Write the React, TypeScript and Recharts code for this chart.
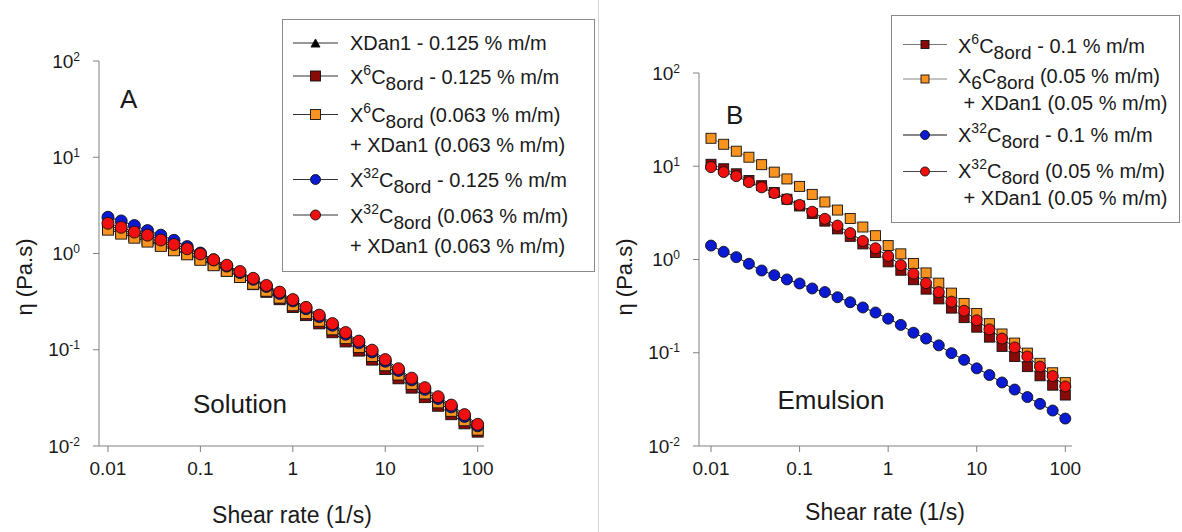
import { LineChart, Line, XAxis, YAxis } from "recharts";

const FONT = "'Liberation Sans', Arial, Helvetica, sans-serif";
const INK = "#1a1a1a";
const FRAME = "#808080";

// shear rate (1/s), 7 points per decade
const shearRate = [
  0.01, 0.0139, 0.0193, 0.0268, 0.0373, 0.0518, 0.072, 0.1, 0.139, 0.193, 0.268, 0.373, 0.518, 0.72,
  1, 1.39, 1.93, 2.68, 3.73, 5.18, 7.2, 10, 13.9, 19.3, 26.8, 37.3, 51.8, 72, 100,
];

// panel A - solution, viscosity (Pa.s)
const solXDan1 = [
  1.95, 1.77, 1.6, 1.46, 1.31, 1.18, 1.06, 0.94, 0.82, 0.715, 0.615, 0.525, 0.442, 0.375, 0.312,
  0.259, 0.214, 0.175, 0.141, 0.114, 0.092, 0.073, 0.0587, 0.0469, 0.0374, 0.0301, 0.0246, 0.0196, 0.0156,
];
const solX6 = [
  1.85, 1.68, 1.52, 1.38, 1.24, 1.11, 1.0, 0.88, 0.77, 0.665, 0.57, 0.48, 0.4, 0.335, 0.278,
  0.229, 0.188, 0.152, 0.122, 0.098, 0.079, 0.063, 0.0505, 0.0404, 0.0322, 0.0262, 0.0214, 0.0172, 0.0141,
];
const solX6Mix = [
  1.77, 1.61, 1.46, 1.33, 1.2, 1.08, 0.98, 0.86, 0.755, 0.66, 0.57, 0.485, 0.41, 0.348, 0.29,
  0.24, 0.2, 0.163, 0.132, 0.107, 0.086, 0.069, 0.0553, 0.0442, 0.0352, 0.0284, 0.0232, 0.0185, 0.0148,
];
const solX32 = [
  2.38, 2.18, 1.95, 1.73, 1.55, 1.37, 1.18, 1.01, 0.86, 0.74, 0.635, 0.54, 0.455, 0.385, 0.322,
  0.267, 0.221, 0.18, 0.145, 0.118, 0.095, 0.076, 0.061, 0.0487, 0.0388, 0.0312, 0.0255, 0.0203, 0.0162,
];
const solX32Mix = [
  2.06, 1.87, 1.67, 1.55, 1.38, 1.24, 1.12, 0.99, 0.86, 0.755, 0.65, 0.552, 0.466, 0.397, 0.332,
  0.276, 0.229, 0.187, 0.151, 0.123, 0.099, 0.079, 0.0635, 0.0507, 0.0404, 0.0325, 0.0266, 0.0212, 0.0168,
];

// panel B - emulsion
const emuX6 = [
  10.5, 9.4, 8.3, 7.03, 6.19, 5.24, 4.43, 3.75, 3.12, 2.58, 2.13, 1.77, 1.47, 1.19, 0.944,
  0.767, 0.607, 0.481, 0.378, 0.301, 0.238, 0.188, 0.147, 0.117, 0.0912, 0.071, 0.0566, 0.0449, 0.0352,
];
const emuX6Mix = [
  19.95, 17.2, 14.5, 12.5, 10.4, 8.65, 7.31, 6.08, 4.99, 4.14, 3.39, 2.75, 2.23, 1.8, 1.41,
  1.15, 0.906, 0.718, 0.558, 0.436, 0.338, 0.264, 0.205, 0.159, 0.127, 0.0991, 0.0771, 0.061, 0.0478,
];
const emuX32 = [
  1.41, 1.21, 1.06, 0.9, 0.762, 0.679, 0.611, 0.553, 0.489, 0.447, 0.394, 0.348, 0.306, 0.27, 0.232,
  0.199, 0.164, 0.142, 0.12, 0.099, 0.0839, 0.068, 0.0577, 0.048, 0.0403, 0.0335, 0.0283, 0.024, 0.0197,
];
const emuX32Mix = [
  9.8, 8.65, 7.83, 6.76, 5.94, 5.15, 4.43, 3.85, 3.25, 2.73, 2.31, 1.92, 1.58, 1.32, 1.09,
  0.871, 0.706, 0.558, 0.447, 0.353, 0.282, 0.223, 0.178, 0.142, 0.114, 0.0912, 0.071, 0.0562, 0.0435,
];

const xTicks = [0.01, 0.1, 1, 10, 100];
const xTickLabels = ["0.01", "0.1", "1", "10", "100"];
const yTicks = [0.01, 0.1, 1, 10, 100];
const yExponents = ["-2", "-1", "0", "1", "2"];

const C_DARKRED = "#8a0a0a";
const C_ORANGE = "#f7931e";
const C_BLUE = "#0a1ad2";
const C_RED = "#f01010";

type Shape = "circle" | "square" | "triangle";

function Marker({ shape, cx, cy, fill, size }: { shape: Shape; cx: number; cy: number; fill: string; size: number }) {
  if (cx == null || cy == null || isNaN(cx) || isNaN(cy)) return null;
  if (shape === "circle") {
    return <circle cx={cx} cy={cy} r={size / 2} fill={fill} stroke="#111" strokeWidth={0.9} />;
  }
  if (shape === "square") {
    return (
      <rect x={cx - size / 2} y={cy - size / 2} width={size} height={size} fill={fill} stroke="#111" strokeWidth={0.9} />
    );
  }
  const h = size * 0.9;
  return (
    <polygon
      points={`${cx},${cy - h / 2} ${cx + size / 2},${cy + h / 2} ${cx - size / 2},${cy + h / 2}`}
      fill={fill}
      stroke="#111"
      strokeWidth={0.9}
    />
  );
}

type Series = { key: string; values: number[]; shape: Shape; fill: string; line: string; size: number };

const seriesA: Series[] = [
  { key: "xdan1", values: solXDan1, shape: "triangle", fill: "#000", line: "#222", size: 10 },
  { key: "x6", values: solX6, shape: "square", fill: C_DARKRED, line: "#222", size: 11 },
  { key: "x6mix", values: solX6Mix, shape: "square", fill: C_ORANGE, line: "#222", size: 11 },
  { key: "x32", values: solX32, shape: "circle", fill: C_BLUE, line: "#222", size: 12 },
  { key: "x32mix", values: solX32Mix, shape: "circle", fill: C_RED, line: "#222", size: 12 },
];

const seriesB: Series[] = [
  { key: "x6mix", values: emuX6Mix, shape: "square", fill: C_ORANGE, line: "#8c8c8c", size: 10 },
  { key: "x6", values: emuX6, shape: "square", fill: C_DARKRED, line: "#7a7a7a", size: 10 },
  { key: "x32mix", values: emuX32Mix, shape: "circle", fill: C_RED, line: "#222", size: 11 },
  { key: "x32", values: emuX32, shape: "circle", fill: C_BLUE, line: "#111", size: 11 },
];

function buildRows(series: Series[]) {
  return shearRate.map((x, i) => {
    const row: Record<string, number> = { x };
    series.forEach((s) => {
      row[s.key] = s.values[i];
    });
    return row;
  });
}

function nearestIndex(list: number[], v: number) {
  let best = 0;
  list.forEach((t, i) => {
    if (Math.abs(Math.log10(t) - Math.log10(v)) < Math.abs(Math.log10(list[best]) - Math.log10(v))) best = i;
  });
  return best;
}

function XTick(props: any) {
  const { x, payload } = props;
  const i = nearestIndex(xTicks, payload.value);
  return (
    <text x={x} y={475} textAnchor="middle" fontSize={19} fontFamily={FONT} fill={INK}>
      {xTickLabels[i]}
    </text>
  );
}

function YTick(props: any) {
  const { y, payload, labelRight } = props;
  const i = nearestIndex(yTicks, payload.value);
  return (
    <text x={labelRight} y={y} dy={6.5} textAnchor="end" fontSize={19} fontFamily={FONT} fill={INK}>
      10
      <tspan dy={-7} fontSize={12}>
        {yExponents[i]}
      </tspan>
    </text>
  );
}

function Panel({
  left,
  width,
  top,
  right,
  yAxisWidth,
  xDomain,
  series,
}: {
  left: number;
  width: number;
  top: number;
  right: number;
  yAxisWidth: number;
  xDomain: [number, number];
  series: Series[];
}) {
  const data = buildRows(series);
  return (
    <div style={{ position: "absolute", left, top: 0, width, height: 532 }}>
      <LineChart width={width} height={532} data={data} margin={{ top, right, bottom: 46, left: 0 }}>
        <XAxis
          xAxisId="x"
          dataKey="x"
          type="number"
          scale="log"
          domain={xDomain}
          allowDataOverflow
          ticks={xTicks}
          interval={0}
          height={40}
          stroke={FRAME}
          tickSize={6}
          tick={<XTick />}
        />
        <XAxis xAxisId="top" orientation="top" dataKey="x" type="number" scale="log" domain={xDomain} allowDataOverflow height={0} tick={false} tickLine={false} stroke={FRAME} />
        <YAxis
          yAxisId="y"
          type="number"
          scale="log"
          domain={[0.01, 100]}
          allowDataOverflow
          ticks={yTicks}
          interval={0}
          width={yAxisWidth}
          stroke={FRAME}
          tickSize={6}
          tick={<YTick labelRight={yAxisWidth - 19} />}
        />
        <YAxis yAxisId="right" orientation="right" type="number" scale="log" domain={[0.01, 100]} allowDataOverflow width={0} tick={false} tickLine={false} stroke={FRAME} />
        {series.map((s) => (
          <Line
            key={s.key}
            xAxisId="x"
            yAxisId="y"
            dataKey={s.key}
            type="linear"
            stroke={s.line}
            strokeWidth={1}
            isAnimationActive={false}
            activeDot={false}
            dot={(p: any) => (
              <Marker key={`${s.key}-${p.index}`} shape={s.shape} cx={p.cx} cy={p.cy} fill={s.fill} size={s.size} />
            )}
          />
        ))}
      </LineChart>
    </div>
  );
}

type Part = [string, "n" | "sup" | "sub"];

function Rich({ x, y, parts, size }: { x: number; y: number; parts: Part[]; size: number }) {
  let cur = 0;
  return (
    <text x={x} y={y} fontSize={size} fontFamily={FONT} fill={INK} style={{ whiteSpace: "pre" }}>
      {parts.map(([t, k], i) => {
        const target = k === "sup" ? -9 : k === "sub" ? 6 : 0;
        const dy = target - cur;
        cur = target;
        const fs = k === "sup" ? 14 : k === "sub" ? size - 1 : size;
        return (
          <tspan key={i} dy={dy} fontSize={fs}>
            {t}
          </tspan>
        );
      })}
    </text>
  );
}

type LegendRow = {
  y: number;
  base: number;
  shape: Shape;
  fill: string;
  size: number;
  line: string;
  parts: Part[];
  second?: string;
  secondBase?: number;
};

const legendA: LegendRow[] = [
  { y: 43, base: 50, shape: "triangle", fill: "#000", size: 9, line: "#333", parts: [["XDan1 - 0.125 % m/m", "n"]] },
  { y: 76, base: 83.5, shape: "square", fill: C_DARKRED, size: 10, line: "#333", parts: [["X", "n"], ["6", "sup"], ["C", "n"], ["8ord", "sub"], [" - 0.125 % m/m", "n"]] },
  {
    y: 114.5, base: 122, shape: "square", fill: C_ORANGE, size: 10, line: "#333",
    parts: [["X", "n"], ["6", "sup"], ["C", "n"], ["8ord", "sub"], [" (0.063 % m/m)", "n"]],
    second: "+ XDan1 (0.063 % m/m)", secondBase: 152,
  },
  { y: 179.5, base: 187, shape: "circle", fill: C_BLUE, size: 10, line: "#333", parts: [["X", "n"], ["32", "sup"], ["C", "n"], ["8ord", "sub"], [" - 0.125 % m/m", "n"]] },
  {
    y: 215, base: 223, shape: "circle", fill: C_RED, size: 10, line: "#333",
    parts: [["X", "n"], ["32", "sup"], ["C", "n"], ["8ord", "sub"], [" (0.063 % m/m)", "n"]],
    second: "+ XDan1 (0.063 % m/m)", secondBase: 253,
  },
];

const legendB: LegendRow[] = [
  { y: 44.5, base: 53, shape: "square", fill: C_DARKRED, size: 8, line: "#777", parts: [["X", "n"], ["6", "sup"], ["C", "n"], ["8ord", "sub"], [" - 0.1 % m/m", "n"]] },
  {
    y: 79, base: 83, shape: "square", fill: C_ORANGE, size: 8, line: "#888",
    parts: [["X", "n"], ["6", "sub"], ["C", "n"], ["8ord", "sub"], [" (0.05 % m/m)", "n"]],
    second: " + XDan1 (0.05 % m/m)", secondBase: 110,
  },
  { y: 135, base: 141.5, shape: "circle", fill: C_BLUE, size: 9, line: "#111", parts: [["X", "n"], ["32", "sup"], ["C", "n"], ["8ord", "sub"], [" - 0.1 % m/m", "n"]] },
  {
    y: 171.5, base: 178, shape: "circle", fill: C_RED, size: 9, line: "#444",
    parts: [["X", "n"], ["32", "sup"], ["C", "n"], ["8ord", "sub"], [" (0.05 % m/m)", "n"]],
    second: " + XDan1 (0.05 % m/m)", secondBase: 205,
  },
];

function LegendBox({
  box,
  rows,
  lineX,
  textX,
  secondX,
}: {
  box: { x: number; y: number; w: number; h: number };
  rows: LegendRow[];
  lineX: [number, number];
  textX: number;
  secondX: number;
}) {
  return (
    <g>
      <rect x={box.x + 0.5} y={box.y + 0.5} width={box.w} height={box.h} fill="#fff" stroke="#8a8a8a" strokeWidth={1} />
      {rows.map((r, i) => (
        <g key={i}>
          <line x1={lineX[0]} x2={lineX[1]} y1={r.y} y2={r.y} stroke={r.line} strokeWidth={1.2} />
          <Marker shape={r.shape} cx={(lineX[0] + lineX[1]) / 2} cy={r.y} fill={r.fill} size={r.size} />
          <Rich x={textX} y={r.base} parts={r.parts} size={20} />
          {r.second ? (
            <text x={secondX} y={r.secondBase} fontSize={20} fontFamily={FONT} fill={INK} style={{ whiteSpace: "pre" }}>
              {r.second}
            </text>
          ) : null}
        </g>
      ))}
    </g>
  );
}

export default function App() {
  return (
    <div style={{ position: "absolute", left: 0, top: 0, width: 1182, height: 532, background: "#fff", fontFamily: FONT }}>
      <Panel left={0} width={598} top={61} right={114} yAxisWidth={99} xDomain={[0.008, 117]} series={seriesA} />
      <Panel left={598} width={584} top={73} right={110} yAxisWidth={101} xDomain={[0.00732, 119]} series={seriesB} />
      <svg
        width={1182}
        height={532}
        style={{ position: "absolute", left: 0, top: 0, pointerEvents: "none" }}
        fontFamily={FONT}
      >
        <line x1={598.5} x2={598.5} y1={0} y2={532} stroke="#d4d4d4" strokeWidth={1} />

        <text x={120} y={108} fontSize={26} fill={INK}>A</text>
        <text x={240} y={413} fontSize={26} fill={INK} textAnchor="middle">Solution</text>
        <text x={726} y={123.5} fontSize={26} fill={INK}>B</text>
        <text x={831} y={409} fontSize={26} fill={INK} textAnchor="middle">Emulsion</text>

        <text transform="translate(31.5,277) rotate(-90)" textAnchor="middle" fontSize={22} fill={INK}>η (Pa.s)</text>
        <text transform="translate(632,277) rotate(-90)" textAnchor="middle" fontSize={22} fill={INK}>η (Pa.s)</text>
        <text x={292} y={523} textAnchor="middle" fontSize={23} fill={INK}>Shear rate (1/s)</text>
        <text x={885} y={520} textAnchor="middle" fontSize={23} fill={INK}>Shear rate (1/s)</text>

        <LegendBox box={{ x: 282, y: 19, w: 312, h: 252 }} rows={legendA} lineX={[293, 338]} textX={350} secondX={350} />
        <LegendBox box={{ x: 891, y: 15, w: 288, h: 207 }} rows={legendB} lineX={[903, 947]} textX={958} secondX={958} />
      </svg>
    </div>
  );
}
